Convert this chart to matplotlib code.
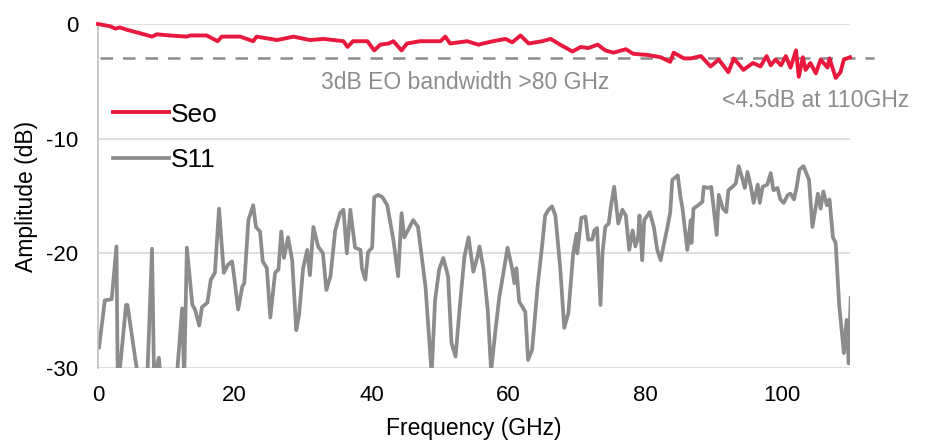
import matplotlib
matplotlib.use("Agg")
import matplotlib.pyplot as plt

plt.rcParams['font.family'] = ['Liberation Sans', 'DejaVu Sans']
plt.rcParams['axes.unicode_minus'] = False

# Seo (EO response)
seo_freq = [0, 1.8, 2.5, 3.2, 4.2, 6.1, 7.9, 8.6, 10.5, 13.0, 13.5, 15.9, 17.5, 18.1,
            20.8, 22.7, 23.2, 26.2, 28.6, 31.0, 33.0, 35.9, 36.5, 37.3, 39.4, 40.4,
            41.3, 42.5, 43.2, 44.4, 45.2, 47.1, 50.1, 50.8, 51.5, 54.0, 55.6, 57.8,
            59.6, 60.6, 61.8, 63.0, 65.0, 66.2, 67.6, 69.4, 70.6, 71.7, 73.1, 74.2,
            75.4, 77.2, 78.3, 80.4, 82.3, 83.7, 84.2, 85.7, 86.7, 88.2, 89.6, 90.8,
            92.2, 93.0, 94.4, 95.8, 96.9, 97.8, 98.4, 99.1, 99.9, 100.6, 101.3, 102.1,
            102.5, 103.1, 103.5, 104.2, 105.0, 105.7, 106.7, 107.0, 107.9, 108.6,
            109.1, 110.0]
seo_amp = [0.0, -0.2, -0.4, -0.3, -0.5, -0.8, -1.1, -0.9, -1.0, -1.1, -1.0, -1.0, -1.5, -1.1,
           -1.1, -1.5, -1.1, -1.4, -1.1, -1.4, -1.3, -1.5, -2.0, -1.5, -1.5, -2.3,
           -1.8, -1.7, -1.5, -2.3, -1.7, -1.5, -1.5, -1.1, -1.7, -1.5, -1.8, -1.5,
           -1.3, -1.6, -1.0, -1.7, -1.5, -1.3, -1.8, -2.4, -2.0, -2.1, -1.8, -2.3,
           -2.5, -2.2, -2.6, -2.7, -2.9, -3.3, -2.5, -3.0, -3.0, -2.8, -3.7, -3.1,
           -4.2, -3.0, -4.0, -3.4, -3.7, -2.8, -3.6, -3.1, -3.6, -2.8, -3.8, -2.3,
           -4.6, -2.9, -4.0, -3.4, -4.3, -3.1, -3.8, -3.0, -4.7, -4.2,
           -3.1, -2.9]

# S11 (reflection)
s11_freq = [0.15, 1.0, 2.0, 2.7, 2.9, 4.1, 4.3, 5.9, 7.2, 7.9, 8.2, 8.9, 9.2, 11.5, 12.3,
            12.6, 13.0, 13.8, 14.2, 14.8, 15.2, 16.0, 16.5, 17.1, 17.7, 18.4, 19.0,
            19.6, 19.8, 20.5, 21.1, 21.4, 22.0, 22.7, 23.1, 23.7, 24.1, 24.7, 25.2,
            25.9, 26.4, 26.8, 27.2, 27.8, 28.4, 29.0, 29.4, 30.0, 30.6, 31.0, 31.5,
            32.2, 32.9, 33.4, 34.0, 34.7, 35.4, 35.9, 36.4, 36.9, 37.6, 38.4, 38.6,
            39.1, 39.5, 40.1, 40.4, 41.0, 41.6, 42.3, 43.2, 43.9, 44.4, 44.8, 46.1,
            46.8, 47.9, 48.8, 49.3, 49.9, 50.5, 51.2, 51.7, 52.3, 53.0, 53.6, 54.2,
            54.9, 55.5, 55.8, 56.4, 57.0, 57.5, 58.1, 58.7, 59.3, 59.9, 60.6, 60.9,
            61.2, 61.6, 62.5, 62.9, 63.5, 64.3, 65.0, 65.4, 65.9, 66.4, 66.9, 67.6,
            68.2, 68.8, 69.5, 70.0, 70.1, 70.7, 71.3, 71.7, 72.3, 72.6, 73.0, 73.5,
            73.8, 74.2, 74.7, 75.0, 75.5, 76.1, 76.7, 77.2, 77.7, 78.2, 78.6, 79.0,
            79.2, 79.6, 79.9, 80.7, 81.3, 81.8, 82.3, 82.7, 83.3, 83.7, 84.0, 84.8,
            85.2, 85.5, 86.2, 86.7, 86.8, 87.1, 87.8, 88.4, 88.6, 89.2, 89.7, 90.5,
            90.8, 91.4, 91.9, 92.2, 92.8, 93.3, 93.7, 94.3, 94.6, 95.0, 95.5, 95.9,
            96.5, 96.8, 97.2, 97.9, 98.4, 98.8, 99.4, 99.8, 100.3, 100.9, 101.3,
            101.8, 102.2, 102.6, 103.2, 103.6, 104.0, 104.5, 105.0, 105.3, 105.7,
            106.1, 106.6, 107.0, 107.5, 107.9, 108.4, 109.1, 109.5, 109.8, 110.1]
s11_amp = [-28.2, -24.1, -24.0, -19.4, -32.0, -24.5, -24.5, -31.0, -31.0, -19.6, -31.0, -29.1, -31.0, -31.0, -24.8,
           -31.0, -19.5, -24.5, -24.9, -26.3, -24.7, -24.3, -22.3, -21.7, -16.1, -21.7, -21.0,
           -20.7, -21.5, -24.9, -22.9, -22.6, -17.1, -15.8, -17.7, -18.1, -20.7, -21.3, -25.6,
           -21.7, -21.4, -18.1, -20.4, -18.6, -20.6, -26.7, -25.4, -21.3, -19.7, -21.9, -17.7,
           -19.4, -20.0, -23.2, -22.0, -18.0, -16.5, -16.2, -20.0, -16.2, -19.5, -19.7, -21.3,
           -22.3, -19.9, -19.5, -15.1, -14.9, -15.1, -15.8, -18.8, -22.0, -16.5, -18.6, -17.1,
           -17.7, -22.9, -30.5, -24.1, -21.4, -20.4, -22.0, -27.8, -29.0, -24.1, -20.3, -18.6,
           -21.6, -20.3, -19.4, -21.4, -24.9, -30.3, -26.9, -23.8, -21.7, -19.5, -21.4, -22.6,
           -21.3, -24.2, -25.1, -29.3, -28.4, -22.9, -19.1, -16.7, -16.2, -15.9, -16.7, -21.2,
           -26.5, -25.2, -20.0, -18.3, -20.0, -16.9, -16.8, -18.8, -18.8, -18.0, -17.8, -24.5,
           -19.9, -17.7, -17.4, -16.0, -14.2, -17.4, -16.2, -16.7, -19.7, -18.0, -19.4, -18.6,
           -16.7, -20.6, -17.1, -16.4, -17.7, -19.7, -20.6, -19.4, -17.7, -16.4, -13.6, -13.2,
           -15.1, -16.1, -19.7, -17.1, -19.1, -16.1, -15.8, -15.5, -14.2, -14.3, -14.2, -18.4,
           -14.9, -16.1, -16.4, -14.5, -14.2, -13.9, -12.4, -13.6, -14.3, -12.9, -14.2, -15.6,
           -14.0, -15.6, -14.2, -14.0, -13.0, -14.5, -14.3, -15.3, -15.6, -14.9, -14.8,
           -15.3, -14.2, -12.7, -12.4, -13.0, -13.6, -17.7, -15.9, -14.8, -16.1,
           -14.6, -15.8, -15.3, -18.6, -19.1, -24.4, -28.7, -25.8, -29.6, -23.9]

threshold_db = -3
threshold_span = [0.3, 113.5]
x_ticks = [0, 20, 40, 60, 80, 100]
y_ticks = [0, -10, -20, -30]

red = '#E8193C'
grey = '#8C8C8C'

fig = plt.figure(figsize=(9.29, 4.42), dpi=100)
ax = fig.add_axes([0.1055, 0.1674, 0.8095, 0.7783])

for y in y_ticks:
    ax.axhline(y, color='#D9D9D9', lw=1.2, zorder=0)

ax.plot(seo_freq, seo_amp, color=red, lw=2.8, label='Seo', clip_on=False, zorder=3)
ax.plot(s11_freq, s11_amp, color=grey, lw=2.7, label='S11', zorder=2)
ax.plot(threshold_span, [threshold_db, threshold_db], color=grey, lw=1.8,
        ls=(0, (5, 4)), clip_on=False, zorder=2)

ax.set_xlim(0, 110)
ax.set_ylim(-30, 0)
ax.set_xticks(x_ticks)
ax.set_yticks(y_ticks)
ax.tick_params(axis='y', length=0, labelsize=16, colors='black', pad=14)
ax.tick_params(axis='x', length=0, labelsize=16, colors='black', pad=12)

for side in ['top', 'right', 'bottom']:
    ax.spines[side].set_visible(False)
ax.spines['left'].set_color('#BFBFBF')
ax.spines['left'].set_linewidth(1.2)

ax.set_xlabel('Frequency (GHz)', fontsize=16.5, labelpad=8)
ax.set_ylabel('Amplitude (dB)', fontsize=16.5, labelpad=6)

ax.text(53.7, -5.1, '3dB EO bandwidth >80 GHz', color=grey, fontsize=16.5,
        ha='center', va='center')
ax.text(104.9, -6.7, '<4.5dB at 110GHz', color=grey, fontsize=16.5,
        ha='center', va='center', clip_on=False)

leg = ax.legend(loc='upper left', bbox_to_anchor=(-0.005, 0.825), frameon=False,
                fontsize=19, handlelength=2.15, handletextpad=0.06, labelspacing=0.8,
                borderaxespad=0.3)

fig.savefig('out.png', dpi=100)
